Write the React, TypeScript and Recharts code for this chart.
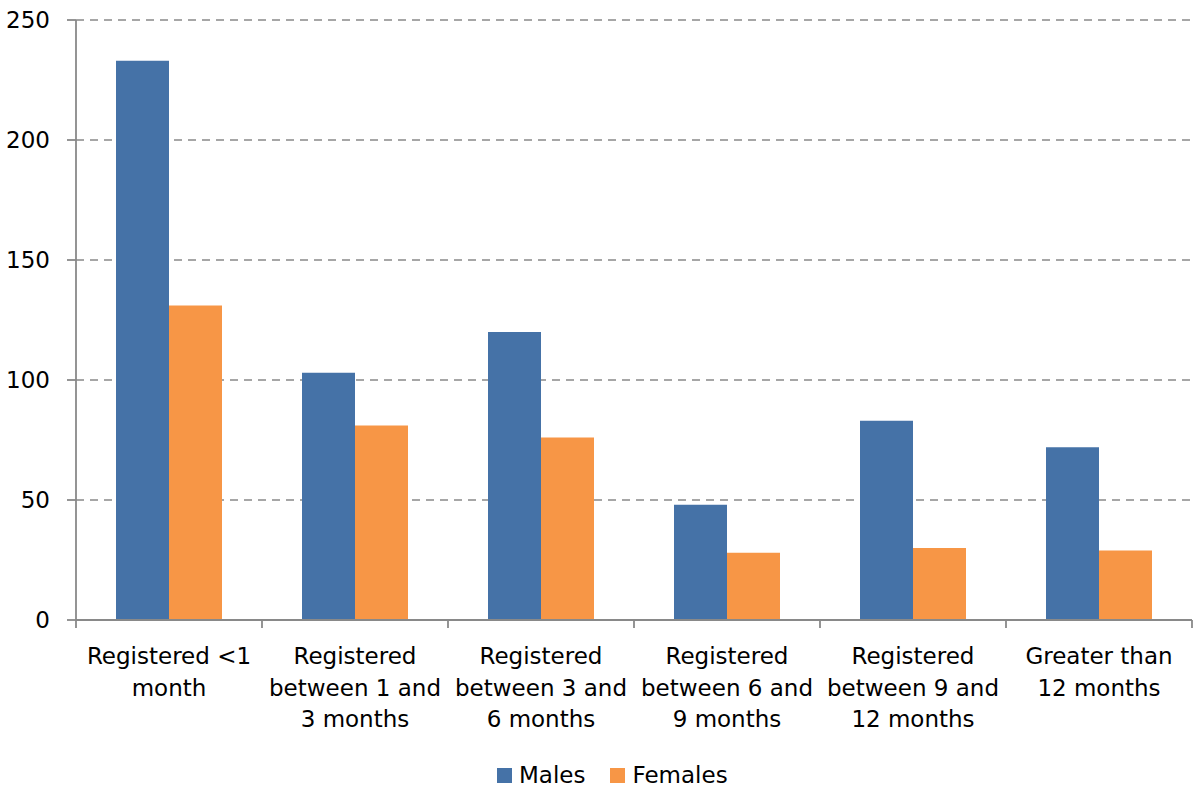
import React from 'react';
import { BarChart, Bar, XAxis, YAxis, CartesianGrid, Legend } from 'recharts';

const categories = [
  'Registered <1|month',
  'Registered|between 1 and|3 months',
  'Registered|between 3 and|6 months',
  'Registered|between 6 and|9 months',
  'Registered|between 9 and|12 months',
  'Greater than|12 months',
];
const males = [233, 103, 120, 48, 83, 72];
const females = [131, 81, 76, 28, 30, 29];
const yTicks = [0, 50, 100, 150, 200, 250];

const data = categories.map((c, i) => ({ name: c, Males: males[i], Females: females[i] }));

const W = 1193;
const H = 792;
const MARGIN = { top: 20, right: 1, left: 0, bottom: 0 };
const Y_W = 76;
const PLOT_W = W - MARGIN.left - MARGIN.right - Y_W;
const FONT = '"DejaVu Sans", Verdana, sans-serif';
const GRAY = '#898989';
const BLUE = '#4572A7';
const ORANGE = '#F79646';

const XTick = (props: any) => {
  const { x, y, payload, index } = props;
  const half = payload && payload.offset ? payload.offset : PLOT_W / categories.length / 2;
  const lines = String(payload.value).split('|');
  const last = index === categories.length - 1;
  return (
    <g>
      <line x1={x - half} x2={x - half} y1={y - 8} y2={y} stroke={GRAY} strokeWidth={1.8} />
      {last && <line x1={x + half} x2={x + half} y1={y - 8} y2={y} stroke={GRAY} strokeWidth={1.8} />}
      <text x={x} y={y + 36} textAnchor="middle" fill="#000" fontSize={23} fontFamily={FONT}>
        {lines.map((l, i) => (
          <tspan key={i} x={x} dy={i === 0 ? 0 : 31.5}>
            {l}
          </tspan>
        ))}
      </text>
    </g>
  );
};

const LegendContent = () => (
  <div style={{ display: 'flex', alignItems: 'center', fontFamily: FONT, fontSize: 23, lineHeight: '32px', color: '#000' }}>
    <span style={{ width: 15, height: 15, background: BLUE, display: 'inline-block', marginRight: 7 }} />
    <span style={{ marginRight: 25 }}>Males</span>
    <span style={{ width: 15, height: 15, background: ORANGE, display: 'inline-block', marginRight: 7 }} />
    <span>Females</span>
  </div>
);

export default function App() {
  return (
    <div style={{ position: 'absolute', left: 0, top: 0, width: W, height: H, background: '#fff' }}>
      <BarChart width={W} height={H} data={data} margin={MARGIN} barCategoryGap={40} barGap={0}>
        <CartesianGrid vertical={false} stroke={GRAY} strokeDasharray="8 6" strokeWidth={1.4} />
        <XAxis
          dataKey="name"
          interval={0}
          height={140}
          tickLine={false}
          tickSize={8}
          tickMargin={0}
          axisLine={{ stroke: GRAY, strokeWidth: 1.8 }}
          tick={<XTick />}
        />
        <YAxis
          width={Y_W}
          domain={[0, 250]}
          ticks={yTicks}
          interval={0}
          tickSize={9}
          tickMargin={17}
          axisLine={{ stroke: GRAY, strokeWidth: 1.8 }}
          tickLine={{ stroke: GRAY, strokeWidth: 1.8 }}
          tick={{ fill: '#000', fontSize: 23, fontFamily: FONT }}
        />
        <Legend
          verticalAlign="bottom"
          height={32}
          content={<LegendContent />}
          wrapperStyle={{ left: 497, top: 759, bottom: 'auto', width: 300, height: 32 }}
        />
        <Bar dataKey="Males" fill={BLUE} isAnimationActive={false} />
        <Bar dataKey="Females" fill={ORANGE} isAnimationActive={false} />
      </BarChart>
    </div>
  );
}
